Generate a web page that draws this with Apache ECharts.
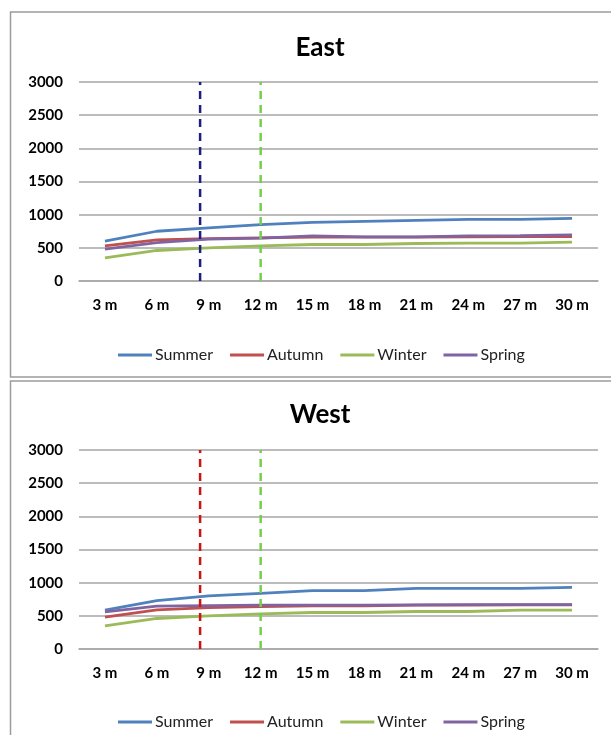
<!DOCTYPE html>
<html>
<head>
<meta charset="utf-8">
<script src="https://cdn.jsdelivr.net/npm/echarts@6/dist/echarts.min.js"></script>
<style>
  html, body { margin: 0; padding: 0; background: #fff; }
  #chart { width: 611px; height: 735px; }
</style>
</head>
<body>
<div id="chart"></div>
<script>
// Distance categories along the x axis
const distances = ['3 m', '6 m', '9 m', '12 m', '15 m', '18 m', '21 m', '24 m', '27 m', '30 m'];
const seasons = ['Summer', 'Autumn', 'Winter', 'Spring'];
const yTicks = [0, 500, 1000, 1500, 2000, 2500, 3000];

// East façade
const eastSummer = [600, 750, 800, 850, 885, 900, 915, 930, 930, 945];
const eastAutumn = [530, 620, 640, 650, 660, 660, 660, 665, 668, 670];
const eastWinter = [350, 460, 500, 530, 550, 550, 565, 570, 570, 585];
const eastSpring = [480, 580, 630, 645, 680, 665, 665, 680, 685, 695];

// West façade
const westSummer = [585, 730, 800, 840, 880, 880, 915, 915, 915, 930];
const westAutumn = [480, 590, 625, 640, 650, 650, 660, 662, 665, 665];
const westWinter = [350, 460, 500, 530, 550, 550, 565, 565, 585, 585];
const westSpring = [560, 645, 655, 660, 660, 660, 665, 668, 670, 670];

// Guide distances (in metres) marked by dashed verticals
const eastGuides = [8.5, 12];
const westGuides = [8.5, 12];

const seasonColors = ['#4F81BD', '#C0504D', '#9BBB59', '#8064A2'];
const eastGuideColors = ['#1E1E80', '#74CF4C'];
const westGuideColors = ['#CC1414', '#74CF4C'];

const FONT = 'Lato, "Open Sans", "Liberation Sans", sans-serif';

function panelAxes(gridIndex) {
  const x = [
    {
      type: 'category', gridIndex, data: distances, boundaryGap: true,
      axisLine: { lineStyle: { color: '#A6A6A6', width: 1.5 } },
      axisTick: { show: false },
      axisLabel: { color: '#000', fontFamily: FONT, fontWeight: 'bold', fontSize: 15, margin: 17 }
    },
    // metre scale spanning the same width, for the guide lines
    { type: 'value', gridIndex, min: 1.5, max: 31.5, show: false }
  ];
  const y = {
    type: 'value', gridIndex, min: yTicks[0], max: yTicks[yTicks.length - 1], interval: 500,
    axisLine: { show: false }, axisTick: { show: false },
    splitLine: { lineStyle: { color: '#A6A6A6', width: 1.5 } },
    axisLabel: {
      color: '#000', fontFamily: FONT, fontWeight: 'bold', fontSize: 15, margin: 16,
      formatter: v => String(v)
    }
  };
  return { x, y };
}

function seasonSeries(values, xAxisIndex, yAxisIndex) {
  return values.map((d, i) => ({
    name: seasons[i], type: 'line', data: d, xAxisIndex, yAxisIndex,
    symbol: 'none', smooth: false, z: 3,
    lineStyle: { color: seasonColors[i], width: 2.8 },
    itemStyle: { color: seasonColors[i] }
  }));
}

function guideSeries(guides, colors, xAxisIndex, yAxisIndex) {
  return guides.map((m, i) => ({
    type: 'line', xAxisIndex, yAxisIndex, symbol: 'none', z: 5, silent: true,
    data: [[m, yTicks[0]], [m, yTicks[yTicks.length - 1]]],
    lineStyle: { color: colors[i], width: 2.5, type: [8, 6] }
  }));
}

const east = panelAxes(0);
const west = panelAxes(1);

const legendBase = {
  data: seasons, icon: 'rect', itemWidth: 34, itemHeight: 3, itemGap: 17,
  textStyle: { fontFamily: FONT, fontSize: 16, color: '#222', padding: [0, 0, 0, -2] },
  left: 113
};

const option = {
  backgroundColor: '#fff',
  animation: false,
  title: [
    { text: 'East', left: 315, top: 30, textAlign: 'center',
      textStyle: { fontFamily: FONT, fontWeight: 'bold', fontSize: 26, color: '#000' } },
    { text: 'West', left: 315, top: 397, textAlign: 'center',
      textStyle: { fontFamily: FONT, fontWeight: 'bold', fontSize: 26, color: '#000' } }
  ],
  legend: [
    Object.assign({ top: 342 }, legendBase),
    Object.assign({ top: 709 }, legendBase)
  ],
  grid: [
    { left: 79, width: 519, top: 82, height: 199 },
    { left: 79, width: 519, top: 450, height: 199 }
  ],
  xAxis: [east.x[0], east.x[1], west.x[0], west.x[1]],
  yAxis: [east.y, west.y],
  series: [].concat(
    seasonSeries([eastSummer, eastAutumn, eastWinter, eastSpring], 0, 0),
    guideSeries(eastGuides, eastGuideColors, 1, 0),
    seasonSeries([westSummer, westAutumn, westWinter, westSpring], 2, 1),
    guideSeries(westGuides, westGuideColors, 3, 1)
  ),
  graphic: [
    { type: 'rect', shape: { x: 10.5, y: 12, width: 620, height: 365 },
      style: { fill: 'none', stroke: '#9C9C9C', lineWidth: 1.5 }, silent: true, z: -1 },
    { type: 'rect', shape: { x: 10.5, y: 381, width: 620, height: 380 },
      style: { fill: 'none', stroke: '#9C9C9C', lineWidth: 1.5 }, silent: true, z: -1 }
  ]
};

const chart = echarts.init(document.getElementById('chart'));
chart.setOption(option);
</script>
</body>
</html>
